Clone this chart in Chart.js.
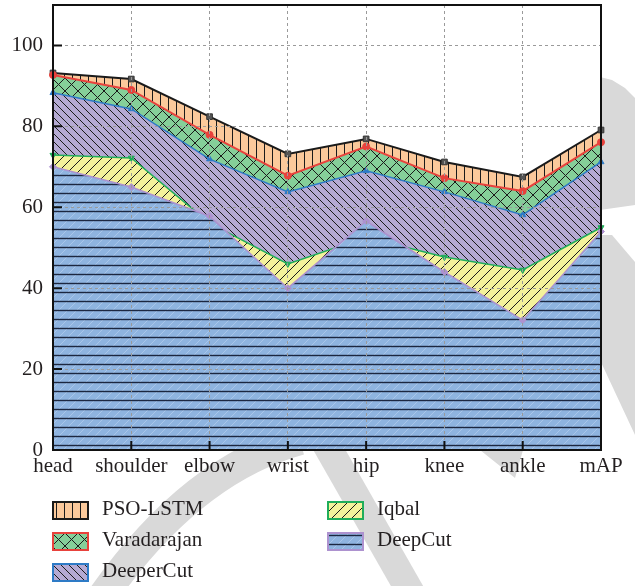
<!DOCTYPE html>
<html lang="en">
<head>
<meta charset="UTF-8">
<title>Joint accuracy comparison</title>
<script src="https://cdn.jsdelivr.net/npm/chart.js"></script>
<style>
  html, body { margin: 0; padding: 0; background: #fff; }
  #wrap { width: 635px; height: 586px; }
</style>
</head>
<body>
<div id="wrap"><canvas id="chart" width="635" height="586"></canvas></div>
<script>
// values (accuracy, %)
const parts = ['head', 'shoulder', 'elbow', 'wrist', 'hip', 'knee', 'ankle', 'mAP'];
const psoLstm = [93.2, 91.7, 82.4, 73.2, 76.9, 71.2, 67.5, 79.1];
const varadarajan = [92.7, 89.0, 77.9, 67.8, 75.0, 67.2, 64.0, 76.1];
const deeperCut = [88.3, 84.3, 71.9, 63.8, 69.0, 63.8, 58.1, 71.2];
const iqbal = [72.9, 72.2, 56.1, 46.0, 52.6, 47.7, 44.5, 55.0];
const deepCut = [70.0, 65.0, 57.8, 40.0, 56.6, 44.0, 32.1, 54.0];
const yTicks = [0, 20, 40, 60, 80, 100];

const FONT = '"Liberation Serif", "DejaVu Serif", serif';
const ctx = document.getElementById('chart').getContext('2d');

// small tiles for the hatched fills
function hatch(bg, size, draw) {
    const c = document.createElement('canvas');
    c.width = size; c.height = size;
    const g = c.getContext('2d');
    g.fillStyle = bg;
    g.fillRect(0, 0, size, size);
    g.strokeStyle = '#1a1a1a';
    g.lineWidth = 1;
    draw(g, size);
    return ctx.createPattern(c, 'repeat');
}
function line(g, x1, y1, x2, y2) {
    g.beginPath(); g.moveTo(x1, y1); g.lineTo(x2, y2); g.stroke();
}
function back(g, s) { line(g, 0, 0, s, s); line(g, -2, s - 2, 2, s + 2); line(g, s - 2, -2, s + 2, 2); }
function fwd(g, s) { line(g, 0, s, s, 0); line(g, -2, 2, 2, -2); line(g, s - 2, s + 2, s + 2, s - 2); }

const vertFill = hatch('#fbc99b', 8, (g, s) => line(g, 0.5, 0, 0.5, s));
const crossFill = hatch('#85cf99', 13, (g, s) => { back(g, s); fwd(g, s); });
const backFill = hatch('#b5aad3', 8, back);
const fwdFill = hatch('#f4f29b', 10, fwd);
const horizFill = hatch('#8fb4e0', 9, (g, s) => {
    g.strokeStyle = '#a9c6ea';
    fwd(g, s);
    g.strokeStyle = '#1c2740';
    g.lineWidth = 1.4;
    line(g, 0, 4.5, s, 4.5);
});

function series(label, data, fill, color, pointStyle, order, extra) {
    return Object.assign({
        label, data, order,
        fill: 'origin',
        backgroundColor: fill,
        borderColor: color,
        borderWidth: 2,
        tension: 0,
        pointStyle,
        pointRadius: 3.5,
        pointBackgroundColor: color,
        pointBorderColor: color,
        pointBorderWidth: 1
    }, extra || {});
}

// light gray watermark behind the chart, white plot background
const backdrop = {
    id: 'backdrop',
    beforeDraw(chart) {
        const c = chart.ctx, a = chart.chartArea;
        c.save();
        c.fillStyle = '#d9d9d9';
        c.strokeStyle = '#d9d9d9';
        const poly = pts => {
            c.beginPath();
            pts.forEach((p, i) => i ? c.lineTo(p[0], p[1]) : c.moveTo(p[0], p[1]));
            c.closePath(); c.fill();
        };
        poly([[600, 77], [612, 80], [625, 88], [635, 98], [635, 205], [600, 210]]);
        poly([[600, 235], [612, 235], [635, 262], [635, 435], [600, 360]]);
        poly([[480, 450], [523, 450], [515, 478]]);
        c.lineWidth = 30;
        c.beginPath(); c.moveTo(100, 600); c.quadraticCurveTo(190, 470, 300, 440); c.stroke();
        c.lineWidth = 28;
        c.beginPath(); c.moveTo(318, 430); c.lineTo(415, 600); c.stroke();
        c.fillStyle = '#fff';
        c.fillRect(a.left, a.top, a.right - a.left, a.bottom - a.top);
        c.restore();
    }
};

// plot frame, inward tick marks and the two-column legend
const frame = {
    id: 'frame',
    afterDraw(chart) {
        const c = chart.ctx, a = chart.chartArea;
        const x = chart.scales.x, y = chart.scales.y;
        c.save();
        c.strokeStyle = '#111';
        c.lineWidth = 2;
        c.beginPath();
        y.ticks.forEach(t => {
            if (t.value > 0) {
                const py = y.getPixelForValue(t.value);
                c.moveTo(a.left, py); c.lineTo(a.left + 9, py);
            }
        });
        x.ticks.forEach((t, i) => {
            if (i > 0 && i < parts.length - 1) {
                const px = x.getPixelForTick(i);
                c.moveTo(px, a.bottom); c.lineTo(px, a.bottom - 9);
            }
        });
        c.stroke();
        c.strokeRect(a.left, a.top, a.right - a.left, a.bottom - a.top);

        c.font = '21px ' + FONT;
        c.textBaseline = 'middle';
        chart.data.datasets.forEach((ds, i) => {
            const col = Math.floor(i / 3), row = i % 3;
            const bx = 53 + col * 275, cy = 510 + row * 31;
            c.fillStyle = ds.backgroundColor;
            c.fillRect(bx, cy - 8, 35, 17);
            c.strokeStyle = ds.borderColor;
            c.lineWidth = 2;
            c.strokeRect(bx, cy - 8, 35, 17);
            c.fillStyle = '#231f20';
            c.fillText(ds.label, bx + 49, cy - 1);
        });
        c.restore();
    }
};

new Chart(ctx, {
    type: 'line',
    data: {
        labels: parts,
        datasets: [
            series('PSO-LSTM', psoLstm, vertFill, '#1a1a1a', 'rect', 5,
                { pointBackgroundColor: '#555', pointBorderColor: '#333', pointRadius: 4 }),
            series('Varadarajan', varadarajan, crossFill, '#e8423c', 'circle', 4),
            series('DeeperCut', deeperCut, backFill, '#2e7bc6', 'triangle', 3, { borderWidth: 1.5 }),
            series('Iqbal', iqbal, fwdFill, '#20ad5a', 'triangle', 2, { borderWidth: 1.5, pointRotation: 180 }),
            series('DeepCut', deepCut, horizFill, '#ad92cf', 'rectRot', 1, { borderWidth: 1.5 })
        ]
    },
    options: {
        responsive: false,
        animation: false,
        layout: { padding: { top: 5, right: 34, left: 0, bottom: 0 } },
        plugins: { legend: { display: false }, tooltip: { enabled: false } },
        scales: {
            x: {
                offset: false,
                grid: { color: '#9a9a9a', lineWidth: 1, drawTicks: false, z: 1 },
                border: { display: false, dash: [3, 3] },
                ticks: { font: { family: FONT, size: 21 }, color: '#231f20', padding: 4, maxRotation: 0, autoSkip: false },
                afterFit(scale) { scale.height = 136; }
            },
            y: {
                min: 0,
                max: 110,
                afterBuildTicks(scale) { scale.ticks = yTicks.map(v => ({ value: v })); },
                grid: { color: '#9a9a9a', lineWidth: 1, drawTicks: false, z: 1 },
                border: { display: false, dash: [3, 3] },
                ticks: { font: { family: FONT, size: 21 }, color: '#231f20', padding: 10 },
                afterFit(scale) { scale.width = 53; scale.paddingTop = 0; scale.paddingBottom = 0; }
            }
        }
    },
    plugins: [backdrop, frame]
});
</script>
</body>
</html>
